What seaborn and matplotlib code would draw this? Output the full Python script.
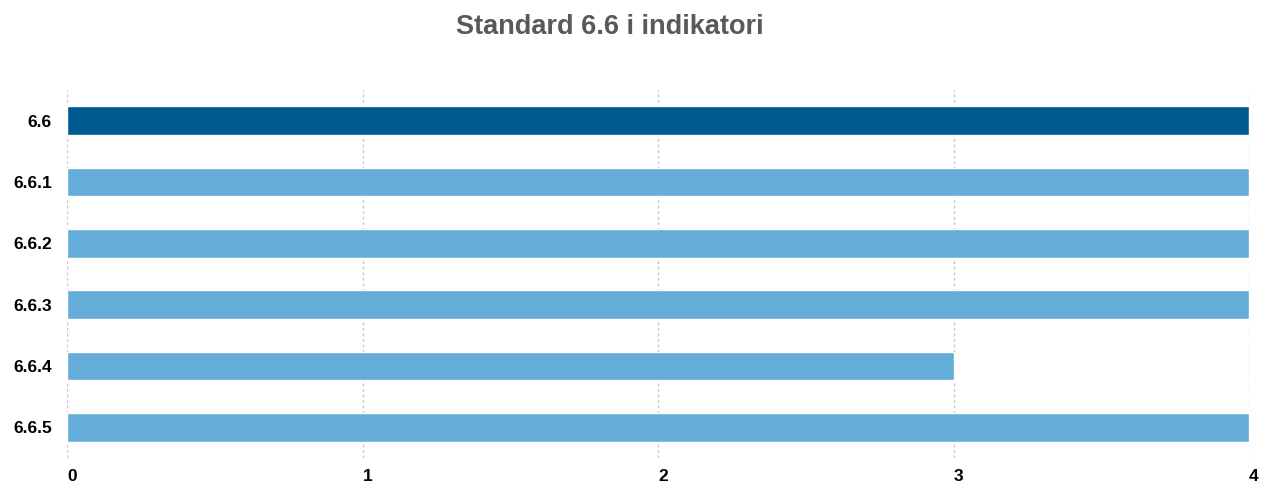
import numpy as np
import matplotlib
matplotlib.use("Agg")
import matplotlib.pyplot as plt
import seaborn as sns
import pandas as pd

labels = ["6.6", "6.6.1", "6.6.2", "6.6.3", "6.6.4", "6.6.5"]
values = [4, 4, 4, 4, 3, 4]
colors = ["#00598F", "#64ADD8", "#64ADD8", "#64ADD8", "#64ADD8", "#64ADD8"]
xticks = [0, 1, 2, 3, 4]

sns.set_style("white")
plt.rcParams["font.family"] = ["Liberation Sans", "DejaVu Sans"]

df = pd.DataFrame({"label": labels, "value": values})

fig = plt.figure(figsize=(12.74, 4.88), dpi=100)
ax = fig.add_axes([67 / 1274, 1 - 458 / 488, (1249 - 67) / 1274, (458 - 90) / 488])

sns.barplot(data=df, y="label", x="value", hue="label", palette=colors,
            orient="h", width=0.47, saturation=1, legend=False, ax=ax, zorder=3)

ax.set_xlim(0, 4)
ax.set_ylim(5.5, -0.5)
ax.set_xticks(xticks)
ax.set_xticklabels([str(t) for t in xticks], fontweight="bold", fontsize=12.5,
                   ha="left", color="black")
ax.set_yticks(range(len(labels)))
ax.set_yticklabels(labels, fontweight="bold", fontsize=12.5, color="black")
ax.tick_params(axis="y", length=0, pad=11)
ax.tick_params(axis="x", length=0, pad=8)
ax.set_xlabel("")
ax.set_ylabel("")
for s in ax.spines.values():
    s.set_visible(False)
ax.xaxis.grid(True, color="#c8c8c8", linestyle=(0, (2, 2)), linewidth=1, zorder=0)
ax.yaxis.grid(False)
ax.set_axisbelow(True)

fig.text(610 / 1274, 1 - 27 / 488, "Standard 6.6 i indikatori", ha="center", va="center",
         fontsize=19.5, fontweight="bold", color="#595959")

fig.savefig("out.png", dpi=100)
